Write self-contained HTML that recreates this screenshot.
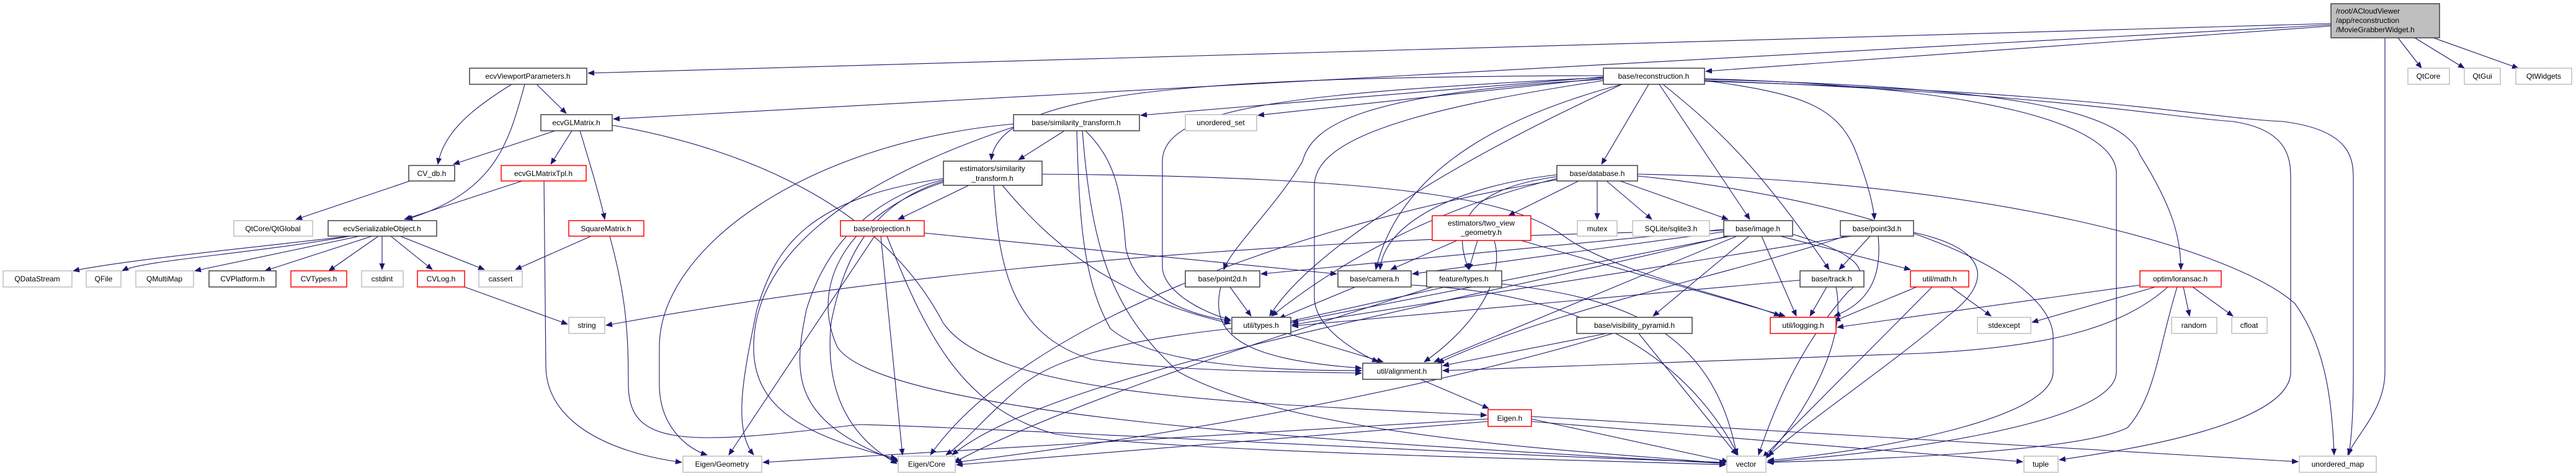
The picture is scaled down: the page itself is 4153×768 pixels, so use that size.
<!DOCTYPE html>
<html><head><meta charset="utf-8"><style>
html,body{margin:0;padding:0;background:#fff;width:4153px;height:768px;overflow:hidden}
svg{display:block}
text{font-family:"Liberation Sans",sans-serif;font-size:12px;fill:#000}
.e{fill:none;stroke:#191970;stroke-width:1.1}
.nb{fill:#fff;stroke:#404040;stroke-width:1.5}
.ng{fill:#fff;stroke:#bfbfbf;stroke-width:1.5}
.nr{fill:#fff;stroke:#ff0000;stroke-width:1.5}
</style></head><body>
<svg width="4153" height="768" viewBox="0 0 4153 768" xmlns="http://www.w3.org/2000/svg">
<defs><marker id="a" markerUnits="userSpaceOnUse" markerWidth="11" markerHeight="9" refX="10" refY="4.5" orient="auto"><path d="M0,0 L11,4.5 L0,9 z" fill="#191970"/></marker></defs>
<g class="e" marker-end="url(#a)">
<!-- root -->
<path d="M3758,38 L948,118"/>
<path d="M3758,40 L989,192"/>
<path d="M3758,42 L2750,115"/>
<path d="M3845,61 L3845,600 C3845,660 3800,700 3785,734"/>
<path d="M3866,61 L3904,110"/>
<path d="M3893,61 L3973,110"/>
<path d="M3923,61 L4060,110"/>
<!-- reconstruction -->
<path d="M2585,124 L1839,186"/>
<path d="M2585,126 L2028,186"/>
<path d="M2585,122 C1900,124 1610,150 1598,258"/>
<path d="M2585,125 C2100,150 1874,170 1874,260 L1874,430 C1874,470 1940,505 1984,516"/>
<path d="M2585,128 C2200,150 2116,200 2100,260 C2060,330 1985,400 1973,435"/>
<path d="M2585,130 C2250,180 2119,230 2119,300 L2119,480 C2119,530 2190,570 2222,584"/>
<path d="M2615,136 C2450,180 2260,260 2218,435"/>
<path d="M2615,136 C2300,280 2100,420 2047,510"/>
<path d="M2658,136 L2582,265"/>
<path d="M2675,136 L2821,354"/>
<path d="M2681,136 C2760,200 2830,260 2949,435"/>
<path d="M2748,130 C2900,150 2960,170 2990,240 C3010,290 3020,330 3022,354"/>
<path d="M2748,127 C3200,140 3412,200 3412,280 L3412,600 C3412,690 3000,735 2850,745"/>
<path d="M2748,128 C3200,140 3421,171 3450,250 C3500,330 3516,380 3516,435"/>
<path d="M2748,130 C3300,150 3500,190 3600,196 C3693,210 3693,260 3693,290 L3693,600 C3693,690 3400,730 3320,742"/>
<path d="M2748,131 C3400,150 3550,190 3680,196 C3794,210 3794,260 3794,290 L3794,600 C3794,680 3790,710 3787,734"/>
<!-- similarity_transform -->
<path d="M1716,211 L1642,258"/>
<path d="M1750,211 C1800,260 1808,313 1815,400 C1830,470 1900,505 1984,518"/>
<path d="M1736,211 C1740,350 1745,450 1790,530 C1860,590 2050,598 2195,598"/>
<path d="M1745,211 C1760,400 1790,500 1900,600 C2100,710 2600,730 2782,748"/>
<path d="M1634,200 C1300,230 1063,400 1063,560 L1063,620 C1063,690 1110,725 1140,734"/>
<path d="M1634,205 C1350,300 1215,420 1215,560 C1215,650 1280,700 1446,740"/>
<!-- estimators/similarity -->
<path d="M1562,299 L1448,354"/>
<path d="M1616,299 C1700,400 1800,480 1984,522"/>
<path d="M1602,299 C1610,430 1630,540 1760,580 C1900,600 2100,600 2195,602"/>
<path d="M1680,281 C2300,285 2450,330 2520,380 C2600,440 2800,480 2870,510"/>
<path d="M1521,290 C1400,320 1330,400 1300,500 C1280,600 1270,680 1450,745"/>
<path d="M1521,292 C1400,330 1360,420 1340,520 C1330,620 1360,700 1446,748"/>
<path d="M1521,288 C1300,320 1250,400 1220,500 C1200,600 1180,690 1215,734"/>
<path d="M1521,294 C1380,340 1300,450 1350,560 C1430,680 2300,720 2782,748"/>
<!-- projection -->
<path d="M1490,376 L2155,442"/>
<path d="M1420,381 L1455,734"/>
<path d="M1410,381 L1175,734"/>
<path d="M1430,381 C1500,560 1560,660 1700,700 C1900,730 2500,740 2782,750"/>
<!-- viewport -->
<path d="M825,136 C770,170 715,210 706,265"/>
<path d="M865,136 L913,183"/>
<path d="M846,136 C820,230 800,310 655,354"/>
<!-- GLMatrix -->
<path d="M895,211 L731,265"/>
<path d="M922,211 L888,265"/>
<path d="M935,211 C950,260 968,320 975,354"/>
<path d="M987,202 C1200,240 1420,330 1520,520 C1600,640 2000,650 2397,670"/>
<path d="M661,292 L477,354"/>
<path d="M842,292 L652,354"/>
<path d="M877,292 C878,400 880,500 880,590 C880,680 980,730 1099,746"/>
<!-- serializable -->
<path d="M565,381 C400,400 200,420 118,437"/>
<path d="M565,381 C400,410 230,420 197,437"/>
<path d="M580,381 L314,437"/>
<path d="M600,381 L427,437"/>
<path d="M610,381 L530,437"/>
<path d="M616,381 L616,435"/>
<path d="M630,381 L697,435"/>
<path d="M645,381 L781,435"/>
<path d="M953,381 L831,435"/>
<path d="M983,381 C1010,480 1013,540 1013,620 C1013,720 1100,720 1384,685 C1600,690 2400,735 2782,746"/>
<path d="M749,463 L915,523"/>
<path d="M2779,372 C2300,380 1600,410 977,525"/>
<!-- database -->
<path d="M2545,292 L2432,348"/>
<path d="M2575,292 L2575,354"/>
<path d="M2590,292 L2663,354"/>
<path d="M2612,292 L2786,354"/>
<path d="M2510,285 C2400,300 2330,340 2368,435"/>
<path d="M2510,282 C2350,300 2230,360 2225,435"/>
<path d="M2510,288 C2300,340 2150,430 2050,510"/>
<path d="M2510,290 C2100,360 1650,520 1500,734"/>
<path d="M2640,281 C3200,290 3600,400 3700,490 C3750,560 3760,650 3763,734"/>
<path d="M2640,284 C3000,320 3300,430 3310,540 L3310,600 C3310,680 3000,730 2850,743"/>
<!-- two view -->
<path d="M2349,388 L2242,435"/>
<path d="M2382,388 L2368,435"/>
<path d="M2409,388 C2430,460 2360,540 2296,584"/>
<path d="M2452,388 L2878,510"/>
<!-- image -->
<path d="M2779,370 L2033,442"/>
<path d="M2779,374 L2277,442"/>
<path d="M2790,381 L2083,520"/>
<path d="M2800,381 L2312,584"/>
<path d="M2785,381 C2300,500 1700,600 1535,734"/>
<path d="M2840,381 L2896,510"/>
<path d="M2870,381 L3080,435"/>
<path d="M2890,378 C3000,410 3020,440 2980,470 C2900,560 2860,660 2835,734"/>
<path d="M2820,381 L2665,510"/>
<!-- point3d -->
<path d="M3015,381 L2965,435"/>
<path d="M2985,381 L2083,524"/>
<path d="M2975,381 C2800,440 2500,500 2318,586"/>
<path d="M3028,381 C3035,450 3010,490 2957,510"/>
<path d="M3085,375 C3200,400 3220,450 3140,510 C3060,580 2900,690 2850,736"/>
<!-- track -->
<path d="M2902,452 L2083,526"/>
<path d="M2945,463 L2918,510"/>
<path d="M2960,463 C2980,560 2900,680 2845,740"/>
<!-- math -->
<path d="M3090,463 L2957,518"/>
<path d="M3145,463 L3210,510"/>
<path d="M3115,463 L2842,738"/>
<!-- loransac -->
<path d="M3450,460 L2962,528"/>
<path d="M3475,463 L3276,520"/>
<path d="M3520,463 L3530,510"/>
<path d="M3535,463 L3600,510"/>
<path d="M3495,463 C3420,530 3300,560 3100,570 L2326,598"/>
<path d="M3510,463 C3480,560 3475,640 3430,690 C3350,730 3000,742 2849,746"/>
<!-- feature types -->
<path d="M2330,463 L2072,520"/>
<path d="M2421,458 C2600,480 2760,520 2800,734"/>
<path d="M2310,463 C2000,560 1700,660 1538,746"/>
<!-- camera -->
<path d="M2185,463 L2062,514"/>
<path d="M2275,460 C2500,470 2700,540 2802,734"/>
<!-- point2d -->
<path d="M1983,463 L2017,510"/>
<path d="M1968,463 C1950,540 2000,580 2195,594"/>
<!-- util types -->
<path d="M2075,538 L2230,584"/>
<path d="M1986,530 C1800,550 1700,580 1650,620 C1590,670 1560,710 1525,734"/>
<!-- visibility pyramid -->
<path d="M2590,538 L2326,590"/>
<path d="M2600,538 C2400,600 2000,690 1540,746"/>
<path d="M2642,538 L2800,734"/>
<!-- alignment -->
<path d="M2290,612 L2400,659"/>
<!-- Eigen.h -->
<path d="M2399,680 L1542,750"/>
<path d="M2399,676 L1230,746"/>
<path d="M2469,676 L2786,745"/>
<path d="M2469,680 L3261,745"/>
<path d="M2469,672 L3705,745"/>
</g>
<!-- nodes -->
<g>
<rect class="ng" x="3758" y="6" width="175" height="55" style="fill:#bfbfbf;stroke:#404040"/>
<text x="3766" y="22">/root/ACloudViewer</text><text x="3766" y="37">/app/reconstruction</text><text x="3766" y="52">/MovieGrabberWidget.h</text>

<rect class="nb" x="757" y="110" width="189" height="26"/><text x="851" y="127" text-anchor="middle">ecvViewportParameters.h</text>
<rect class="nb" x="872" y="185" width="115" height="26"/><text x="929" y="202" text-anchor="middle">ecvGLMatrix.h</text>
<rect class="nb" x="659" y="267" width="74" height="25"/><text x="696" y="284" text-anchor="middle">CV_db.h</text>
<rect class="nr" x="808" y="267" width="137" height="25"/><text x="876" y="284" text-anchor="middle">ecvGLMatrixTpl.h</text>
<rect class="ng" x="377" y="356" width="127" height="25"/><text x="440" y="373" text-anchor="middle">QtCore/QtGlobal</text>
<rect class="nb" x="529" y="356" width="175" height="25"/><text x="616" y="373" text-anchor="middle">ecvSerializableObject.h</text>
<rect class="nr" x="917" y="356" width="121" height="25"/><text x="977" y="373" text-anchor="middle">SquareMatrix.h</text>
<rect class="ng" x="5" y="437" width="111" height="26"/><text x="60" y="454" text-anchor="middle">QDataStream</text>
<rect class="ng" x="139" y="437" width="56" height="26"/><text x="167" y="454" text-anchor="middle">QFile</text>
<rect class="ng" x="219" y="437" width="93" height="26"/><text x="265" y="454" text-anchor="middle">QMultiMap</text>
<rect class="nb" x="337" y="437" width="108" height="26"/><text x="391" y="454" text-anchor="middle">CVPlatform.h</text>
<rect class="nr" x="469" y="437" width="90" height="26"/><text x="514" y="454" text-anchor="middle">CVTypes.h</text>
<rect class="ng" x="583" y="437" width="67" height="26"/><text x="616" y="454" text-anchor="middle">cstdint</text>
<rect class="nr" x="673" y="437" width="76" height="26"/><text x="711" y="454" text-anchor="middle">CVLog.h</text>
<rect class="ng" x="772" y="437" width="70" height="26"/><text x="807" y="454" text-anchor="middle">cassert</text>
<rect class="ng" x="917" y="512" width="58" height="26"/><text x="946" y="529" text-anchor="middle">string</text>
<rect class="ng" x="1101" y="736" width="127" height="26"/><text x="1164" y="753" text-anchor="middle">Eigen/Geometry</text>

<rect class="nb" x="2585" y="110" width="163" height="26"/><text x="2666" y="127" text-anchor="middle">base/reconstruction.h</text>
<rect class="nb" x="1634" y="185" width="203" height="26"/><text x="1735" y="202" text-anchor="middle">base/similarity_transform.h</text>
<rect class="ng" x="1911" y="185" width="115" height="26"/><text x="1968" y="202" text-anchor="middle">unordered_set</text>
<rect class="nb" x="1521" y="260" width="159" height="39"/><text x="1600" y="276" text-anchor="middle">estimators/similarity</text><text x="1600" y="292" text-anchor="middle">_transform.h</text>
<rect class="nb" x="2510" y="267" width="130" height="25"/><text x="2575" y="284" text-anchor="middle">base/database.h</text>
<rect class="nr" x="1355" y="356" width="135" height="25"/><text x="1422" y="373" text-anchor="middle">base/projection.h</text>
<rect class="nr" x="2309" y="348" width="159" height="40"/><text x="2388" y="364" text-anchor="middle">estimators/two_view</text><text x="2388" y="379" text-anchor="middle">_geometry.h</text>
<rect class="ng" x="2543" y="356" width="64" height="25"/><text x="2575" y="373" text-anchor="middle">mutex</text>
<rect class="ng" x="2632" y="356" width="124" height="25"/><text x="2694" y="373" text-anchor="middle">SQLite/sqlite3.h</text>
<rect class="nb" x="1911" y="437" width="120" height="26"/><text x="1971" y="454" text-anchor="middle">base/point2d.h</text>
<rect class="nb" x="2157" y="437" width="118" height="26"/><text x="2216" y="454" text-anchor="middle">base/camera.h</text>
<rect class="nb" x="2300" y="437" width="121" height="26"/><text x="2360" y="454" text-anchor="middle">feature/types.h</text>
<rect class="nb" x="1986" y="512" width="95" height="26"/><text x="2033" y="529" text-anchor="middle">util/types.h</text>
<rect class="nb" x="2542" y="512" width="186" height="26"/><text x="2635" y="529" text-anchor="middle">base/visibility_pyramid.h</text>
<rect class="nb" x="2197" y="586" width="127" height="26"/><text x="2260" y="603" text-anchor="middle">util/alignment.h</text>
<rect class="nr" x="2399" y="661" width="70" height="27"/><text x="2434" y="679" text-anchor="middle">Eigen.h</text>
<rect class="ng" x="1448" y="736" width="92" height="26"/><text x="1494" y="753" text-anchor="middle">Eigen/Core</text>

<rect class="ng" x="3882" y="110" width="67" height="26"/><text x="3915" y="127" text-anchor="middle">QtCore</text>
<rect class="ng" x="3973" y="110" width="58" height="26"/><text x="4002" y="127" text-anchor="middle">QtGui</text>
<rect class="ng" x="4056" y="110" width="90" height="26"/><text x="4101" y="127" text-anchor="middle">QtWidgets</text>
<rect class="nb" x="2779" y="356" width="111" height="25"/><text x="2834" y="373" text-anchor="middle">base/image.h</text>
<rect class="nb" x="2967" y="356" width="118" height="25"/><text x="3026" y="373" text-anchor="middle">base/point3d.h</text>
<rect class="nb" x="2902" y="437" width="103" height="26"/><text x="2953" y="454" text-anchor="middle">base/track.h</text>
<rect class="nr" x="3080" y="437" width="94" height="26"/><text x="3127" y="454" text-anchor="middle">util/math.h</text>
<rect class="nr" x="3450" y="437" width="131" height="26"/><text x="3515" y="454" text-anchor="middle">optim/loransac.h</text>
<rect class="nr" x="2854" y="512" width="106" height="26"/><text x="2907" y="529" text-anchor="middle">util/logging.h</text>
<rect class="ng" x="3188" y="512" width="86" height="26"/><text x="3231" y="529" text-anchor="middle">stdexcept</text>
<rect class="ng" x="3501" y="512" width="73" height="26"/><text x="3537" y="529" text-anchor="middle">random</text>
<rect class="ng" x="3598" y="512" width="57" height="26"/><text x="3626" y="529" text-anchor="middle">cfloat</text>
<rect class="ng" x="2784" y="736" width="63" height="26"/><text x="2815" y="753" text-anchor="middle">vector</text>
<rect class="ng" x="3263" y="736" width="55" height="26"/><text x="3290" y="753" text-anchor="middle">tuple</text>
<rect class="ng" x="3707" y="736" width="124" height="26"/><text x="3769" y="753" text-anchor="middle">unordered_map</text>
</g>
</svg>
</body></html>
